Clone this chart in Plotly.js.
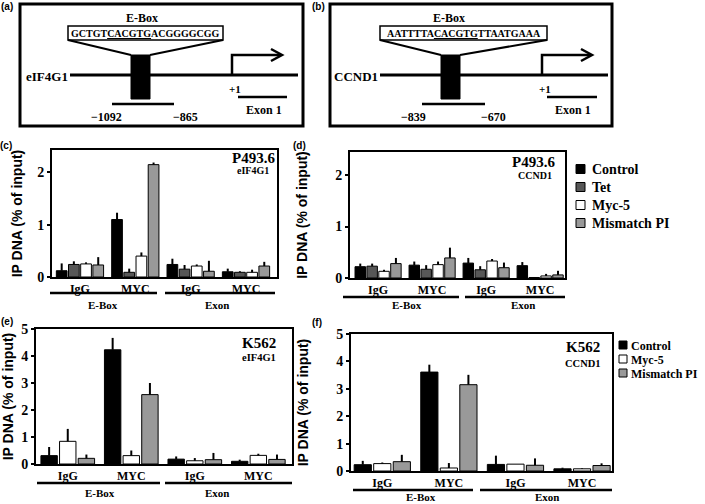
<!DOCTYPE html>
<html><head><meta charset="utf-8">
<script src="https://cdn.plot.ly/plotly-3.0.1.min.js"></script>
<style>html,body{margin:0;padding:0;background:#fff}</style>
</head><body><div id="chart" style="width:705px;height:504px"></div>
<script>
// ---------------- data ----------------
const sites = ["IgG", "MYC", "IgG", "MYC"];
const regions = ["E-Box", "Exon"];
const seriesP493 = ["Control", "Tet", "Myc-5", "Mismatch PI"];
const seriesK562 = ["Control", "Myc-5", "Mismatch PI"];

// (c) P493.6 eIF4G1 — mean and upper error
const c_mean = [
  [0.12, 1.10, 0.24, 0.10],
  [0.24, 0.09, 0.15, 0.09],
  [0.25, 0.40, 0.21, 0.09],
  [0.23, 2.15, 0.11, 0.21]
];
const c_err = [
  [0.14, 0.13, 0.11, 0.06],
  [0.06, 0.07, 0.08, 0.02],
  [0.03, 0.07, 0.03, 0.05],
  [0.15, 0.04, 0.20, 0.08]
];
// (d) P493.6 CCND1
const d_mean = [
  [0.22, 0.25, 0.29, 0.24],
  [0.23, 0.17, 0.16, 0.01],
  [0.13, 0.26, 0.33, 0.04],
  [0.28, 0.39, 0.20, 0.06]
];
const d_err = [
  [0.06, 0.07, 0.10, 0.07],
  [0.05, 0.08, 0.07, 0.01],
  [0.03, 0.06, 0.04, 0.04],
  [0.11, 0.20, 0.10, 0.08]
];
// (e) K562 eIF4G1
const e_mean = [
  [0.31, 4.23, 0.18, 0.10],
  [0.84, 0.31, 0.12, 0.32],
  [0.21, 2.57, 0.16, 0.17]
];
const e_err = [
  [0.32, 0.44, 0.10, 0.06],
  [0.46, 0.19, 0.10, 0.06],
  [0.14, 0.43, 0.25, 0.18]
];
// (f) K562 CCND1
const f_mean = [
  [0.23, 3.61, 0.24, 0.08],
  [0.27, 0.11, 0.25, 0.08],
  [0.34, 3.15, 0.21, 0.20]
];
const f_err = [
  [0.14, 0.27, 0.32, 0.04],
  [0.04, 0.18, 0.00, 0.02],
  [0.25, 0.36, 0.25, 0.08]
];

// diagram texts
const geneA = "eIF4G1", seqA = ["GCTGT", "CACGTG", "ACGGGGCGG"], ampA = ["\u22121092", "\u2212865"];
const geneB = "CCND1", seqB = ["AATTTTA", "CACGTG", "TTAATGAAA"], ampB = ["\u2212839", "\u2212670"];
const yTitle = "IP DNA (% of input)";
const cellLabels = [["P493.6", "eIF4G1"], ["P493.6", "CCND1"], ["K562", "eIF4G1"], ["K562", "CCND1"]];

// ---------------- styling ----------------
const colors = {"Control": "#000000", "Tet": "#575757", "Myc-5": "#ffffff", "Mismatch PI": "#999999"};
const SERIF = "Liberation Serif, Times New Roman, serif";
const SANS = "Liberation Sans, Arial, sans-serif";
const W = 705, H = 504;
const fx = x => x / W, fy = y => 1 - y / H;
const shapes = [], annotations = [];

function line(x0, y0, x1, y1, w) {
  shapes.push({type: "line", xref: "paper", yref: "paper", x0: fx(x0), y0: fy(y0), x1: fx(x1), y1: fy(y1),
    line: {color: "#000", width: w}});
}
function rect(x0, y0, x1, y1, w, fill) {
  shapes.push({type: "rect", xref: "paper", yref: "paper", x0: fx(x0), y0: fy(y0), x1: fx(x1), y1: fy(y1),
    line: {color: "#000", width: w}, fillcolor: fill || "rgba(0,0,0,0)"});
}
function path(pts, w) {
  const d = pts.map((p, i) => (i ? "L" : "M") + fx(p[0]) + "," + fy(p[1])).join(" ");
  shapes.push({type: "path", xref: "paper", yref: "paper", path: d, line: {color: "#000", width: w}});
}
function text(t, x, y, size, xanchor, family) {
  annotations.push({text: t, xref: "paper", yref: "paper", x: fx(x), y: fy(y), showarrow: false,
    xanchor: xanchor || "center", yanchor: "middle", borderpad: 0,
    font: {family: family || SERIF, size: size, color: "#000", weight: "bold"}});
}

// ---------------- diagrams (a) (b) ----------------
function diagram(g) {
  rect(g.box[0], 4, g.box[1], 126, 3);
  text("E-Box", g.ebx, 18, 12);
  rect(g.seq[0], 26, g.seq[1], 40, 1.5, "#fff");
  text(g.s[0] + "<u>" + g.s[1] + "</u>" + g.s[2], (g.seq[0] + g.seq[1]) / 2, 33.5, 10);
  line(g.seq[0], 40, g.blk[0], 55, 2);
  line(g.seq[1], 40, g.blk[1], 55, 2);
  line(g.gl[0], 75, g.gl[1], 75, 3);
  rect(g.blk[0], 55, g.blk[1], 99, 1, "#000");
  text(g.gene, g.gl[0] - 1, 76, 13, "right");
  path([[g.tss, 75], [g.tss, 55], [g.arr, 55]], 2.5);
  path([[g.arr - 10, 49], [g.arr + 1, 55], [g.arr - 10, 61]], 2.5);
  text("+1", g.tss + 3, 89, 11);
  line(g.ex[0], 97, g.ex[1], 97, 2.5);
  text("Exon 1", (g.ex[0] + g.ex[1]) / 2 + 1, 110, 12);
  line(g.amp[0], 104, g.amp[1], 104, 2.5);
  text(g.a[0], g.ampT[0], 117, 12);
  text(g.a[1], g.ampT[1], 117, 12);
}
diagram({box: [20, 303], ebx: 142, seq: [68, 223], s: seqA, blk: [131, 150], gl: [70, 298], gene: geneA,
  tss: 232, arr: 281, ex: [238, 287], amp: [112, 174], a: ampA, ampT: [106, 185]});
diagram({box: [330, 612], ebx: 449, seq: [380, 547], s: seqB, blk: [441, 460], gl: [380, 608], gene: geneB,
  tss: 542, arr: 591, ex: [547, 597], amp: [422, 485], a: ampB, ampT: [414, 493]});

// panel letters
[["(a)", 7, 7], ["(b)", 318, 7], ["(c)", 6, 145], ["(d)", 299, 145], ["(e)", 7, 321], ["(f)", 317, 322]]
  .forEach(p => text(p[0], p[1], p[2], 10, "center", SANS));

// ---------------- charts ----------------
const panels = [
  {xa: "x", ya: "y", series: seriesP493, mean: c_mean, err: c_err, dom: [52, 277, 150, 277], xr: [-0.505, 3.56], yr: [0, 2.43],
    ticks: [0, 1, 2], so: 11, br: {ly: 293, e: [50, 157], x: [165, 275], ty: 305, tx: [103, 217]},
    lab: [[253, 158, 15], [253, 170, 10]]},
  {xa: "x2", ya: "y2", series: seriesP493, mean: d_mean, err: d_err, dom: [350, 565, 152, 278], xr: [-0.52, 3.46], yr: [0, 2.45],
    ticks: [0, 1, 2], so: 24, br: {ly: 297, e: [343, 459], x: [465, 565], ty: 305, tx: [407, 523]},
    lab: [[533, 162, 15], [535, 175, 10]]},
  {xa: "x3", ya: "y3", series: seriesK562, mean: e_mean, err: e_err, dom: [36, 292, 329, 464], xr: [-0.5, 3.53], yr: [0, 5],
    ticks: [0, 1, 2, 3, 4, 5], so: 8, br: {ly: 483, e: [37, 160], x: [165, 292], ty: 493, tx: [100, 217]},
    lab: [[259, 343, 15], [259, 357, 10.5]]},
  {xa: "x4", ya: "y4", series: seriesK562, mean: f_mean, err: f_err, dom: [351, 612, 334, 471], xr: [-0.47, 3.45], yr: [0, 5],
    ticks: [0, 1, 2, 3, 4, 5], so: 24, br: {ly: 490, e: [353, 473], x: [480, 612], ty: 497, tx: [421, 547]},
    lab: [[583, 347, 15], [583, 363, 10.5]]}
];

const traces = [];
const layout = {
  width: W, height: H, autosize: false, margin: {l: 0, r: 0, t: 0, b: 0},
  paper_bgcolor: "#fff", plot_bgcolor: "#fff", showlegend: false,
  barmode: "group", bargap: 0.12, bargroupgap: 0.12,
  font: {family: SERIF, color: "#000"}
};
const xpos = sites.map((s, i) => i);

panels.forEach((p, k) => {
  p.series.forEach((name, j) => {
    traces.push({
      type: "bar", name: name, x: xpos, y: p.mean[j], xaxis: p.xa, yaxis: p.ya,
      marker: {color: colors[name], line: {color: "#000", width: 1}},
      error_y: {type: "data", array: p.err[j], arrayminus: p.err[j].map(() => 0), symmetric: false,
        color: "#000", thickness: 2, width: 0},
      showlegend: false, hoverinfo: "skip"
    });
  });
  const xk = "xaxis" + (k ? k + 1 : ""), yk = "yaxis" + (k ? k + 1 : "");
  layout[xk] = {
    domain: [fx(p.dom[0]), fx(p.dom[1])], range: p.xr, anchor: p.ya,
    tickmode: "array", tickvals: xpos, ticktext: sites, ticks: "",
    showline: true, mirror: true, linewidth: 2, linecolor: "#000",
    showgrid: false, zeroline: false, fixedrange: true,
    tickfont: {family: SERIF, size: 12, color: "#000", weight: "bold"}
  };
  layout[yk] = {
    domain: [fy(p.dom[3]), fy(p.dom[2])], range: p.yr, anchor: p.xa,
    tickmode: "array", tickvals: p.ticks, ticks: "outside", ticklen: 3, tickwidth: 2, tickcolor: "#000",
    showline: true, mirror: true, linewidth: 2, linecolor: "#000",
    showgrid: false, zeroline: false, fixedrange: true,
    tickfont: {family: SERIF, size: 14, color: "#000", weight: "bold"},
    title: {text: yTitle, standoff: p.so, font: {family: SANS, size: 14, color: "#000", weight: "bold"}}
  };
  // region brackets
  line(p.br.e[0], p.br.ly, p.br.e[1], p.br.ly, 2.5);
  line(p.br.x[0], p.br.ly, p.br.x[1], p.br.ly, 2.5);
  text(regions[0], p.br.tx[0], p.br.ty, 11);
  text(regions[1], p.br.tx[1], p.br.ty, 11);
  // cell line / gene labels
  text(cellLabels[k][0], p.lab[0][0], p.lab[0][1], p.lab[0][2]);
  text(cellLabels[k][1], p.lab[1][0], p.lab[1][1], p.lab[1][2]);
});

// custom legends
seriesP493.forEach((name, i) => {
  const y = 169 + 18 * i;
  rect(576, y - 4.5, 585, y + 4.5, 1, colors[name]);
  text(name, 591, y + 0.5, 14, "left");
});
seriesK562.forEach((name, i) => {
  const y = 345 + 14 * i;
  rect(619, y - 4, 627, y + 4, 1, colors[name]);
  text(name, 630, y + 0.5, 12, "left");
});

layout.shapes = shapes;
layout.annotations = annotations;
Plotly.newPlot("chart", traces, layout, {displayModeBar: false, staticPlot: true});
</script>
</body></html>
